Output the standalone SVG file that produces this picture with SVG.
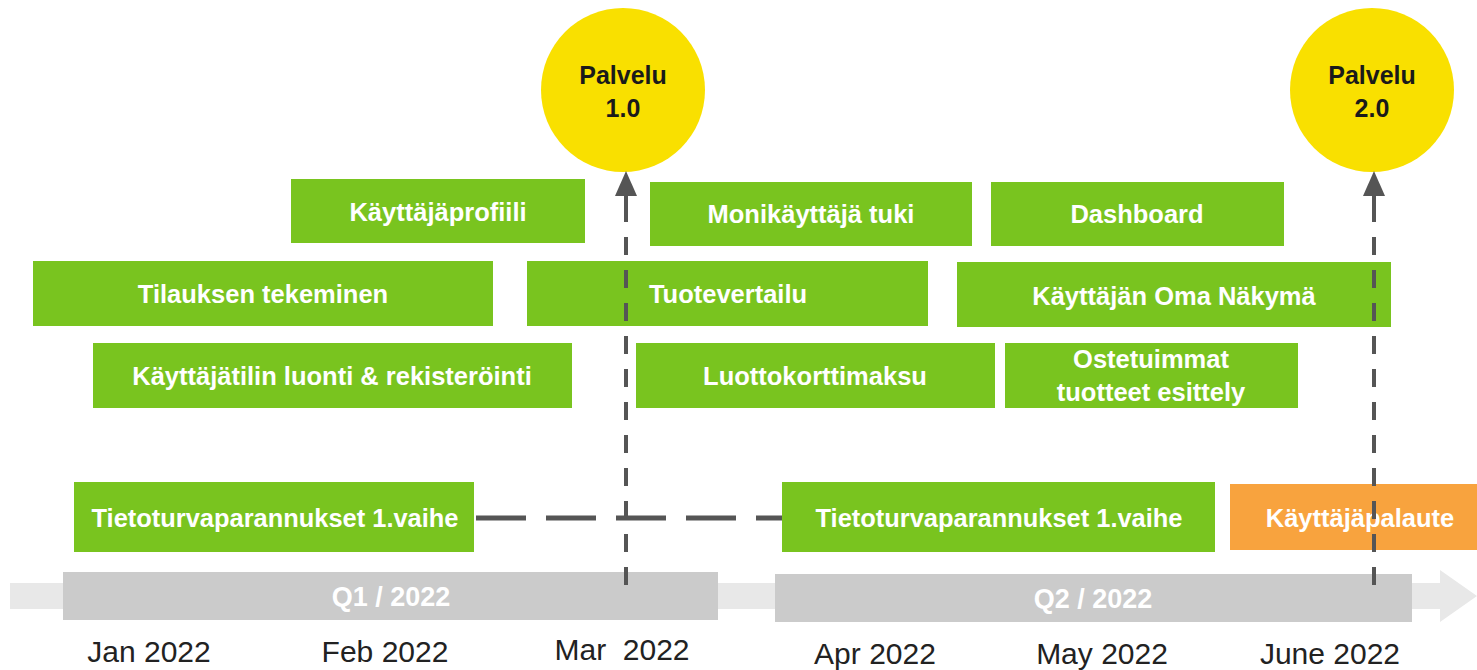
<svg xmlns="http://www.w3.org/2000/svg" width="1477" height="670" viewBox="0 0 1477 670">
<style>
.box{fill:#79C41F}
.orange{fill:#F8A33E}
.lbl{font-family:"Liberation Sans","Arial",sans-serif;font-weight:bold;font-size:25.5px;fill:#ffffff;text-anchor:middle}
.circ{fill:#F9E000}
.clbl{font-family:"Liberation Sans","Arial",sans-serif;font-weight:bold;font-size:25px;fill:#1a1a1a;text-anchor:middle}
.q{font-family:"Liberation Sans","Arial",sans-serif;font-weight:bold;font-size:27px;fill:#ffffff;text-anchor:middle}
.month{font-family:"Liberation Sans","Arial",sans-serif;font-size:30px;fill:#222222;text-anchor:middle}
.vdash{stroke:#555555;stroke-width:4;fill:none;stroke-dasharray:18 15}
.hdash{stroke:#555555;stroke-width:5;fill:none;stroke-dasharray:50 20}
.head{fill:#555555}
</style>
<rect width="1477" height="670" fill="#ffffff"/>

<g id="timeline">
<path d="M10,583 L1440,583 L1440,570 L1477,596 L1440,622 L1440,609 L10,609 Z" fill="#E8E8E8"/>
</g>
<g id="q1">
<rect x="63" y="572" width="655" height="48" fill="#CBCBCB"/>
<text class="q" x="391" y="606">Q1 / 2022</text>
</g>
<g id="q2">
<rect x="775" y="574" width="637" height="48" fill="#CBCBCB"/>
<text class="q" x="1093" y="608">Q2 / 2022</text>
</g>

<g id="months">
<text class="month" x="149" y="662">Jan 2022</text>
<text class="month" x="385" y="662">Feb 2022</text>
<text class="month" x="622" y="660" xml:space="preserve">Mar  2022</text>
<text class="month" x="875" y="664">Apr 2022</text>
<text class="month" x="1102" y="664">May 2022</text>
<text class="month" x="1330" y="664">June 2022</text>
</g>

<g id="palvelu1">
<circle class="circ" cx="623" cy="90" r="82"/>
<text class="clbl" x="623" y="84">Palvelu</text>
<text class="clbl" x="623" y="117">1.0</text>
</g>
<g id="palvelu2">
<circle class="circ" cx="1372" cy="90" r="82"/>
<text class="clbl" x="1372" y="84">Palvelu</text>
<text class="clbl" x="1372" y="117">2.0</text>
</g>

<g id="kayttajaprofiili">
<rect class="box" x="291" y="179" width="294" height="64"/>
<text class="lbl" x="438" y="221">Käyttäjäprofiili</text>
</g>
<g id="monikayttaja">
<rect class="box" x="650" y="182" width="322" height="64"/>
<text class="lbl" x="811" y="223">Monikäyttäjä tuki</text>
</g>
<g id="dashboard">
<rect class="box" x="991" y="182" width="293" height="64"/>
<text class="lbl" x="1137" y="223">Dashboard</text>
</g>
<g id="tilauksen">
<rect class="box" x="33" y="261" width="460" height="65"/>
<text class="lbl" x="263" y="303">Tilauksen tekeminen</text>
</g>
<g id="tuotevertailu">
<rect class="box" x="527" y="261" width="401" height="65"/>
<text class="lbl" x="728" y="303">Tuotevertailu</text>
</g>
<g id="omanakyma">
<rect class="box" x="957" y="262" width="434" height="65"/>
<text class="lbl" x="1174" y="305">Käyttäjän Oma Näkymä</text>
</g>
<g id="kayttajatili">
<rect class="box" x="93" y="343" width="479" height="65"/>
<text class="lbl" x="332" y="385">Käyttäjätilin luonti &amp; rekisteröinti</text>
</g>
<g id="luottokortti">
<rect class="box" x="636" y="343" width="359" height="65"/>
<text class="lbl" x="815" y="385">Luottokorttimaksu</text>
</g>
<g id="ostetuimmat">
<rect class="box" x="1005" y="343" width="293" height="65"/>
<text class="lbl" x="1151" y="368">Ostetuimmat</text>
<text class="lbl" x="1151" y="401">tuotteet esittely</text>
</g>
<g id="tietoturva1">
<rect class="box" x="74" y="482" width="400" height="70"/>
<text class="lbl" x="275" y="527" textLength="367" lengthAdjust="spacingAndGlyphs">Tietoturvaparannukset 1.vaihe</text>
</g>
<g id="tietoturva2">
<rect class="box" x="782" y="482" width="433" height="70"/>
<text class="lbl" x="999" y="527" textLength="367" lengthAdjust="spacingAndGlyphs">Tietoturvaparannukset 1.vaihe</text>
</g>
<g id="kayttajapalaute">
<rect class="orange" x="1230" y="484" width="247" height="66"/>
<text class="lbl" x="1360" y="527">Käyttäjäpalaute</text>
</g>

<g id="connectors">
<line class="hdash" x1="476" y1="518" x2="782" y2="518"/>
<line class="vdash" x1="626" y1="585" x2="626" y2="196"/>
<line x1="626" y1="196" x2="626" y2="214" stroke="#555555" stroke-width="4"/>
<polygon class="head" points="626,171 615,196 637,196"/>
<line class="vdash" x1="1374" y1="585" x2="1374" y2="196"/>
<line x1="1374" y1="196" x2="1374" y2="214" stroke="#555555" stroke-width="4"/>
<polygon class="head" points="1374,171 1363,196 1385,196"/>
</g>
</svg>
